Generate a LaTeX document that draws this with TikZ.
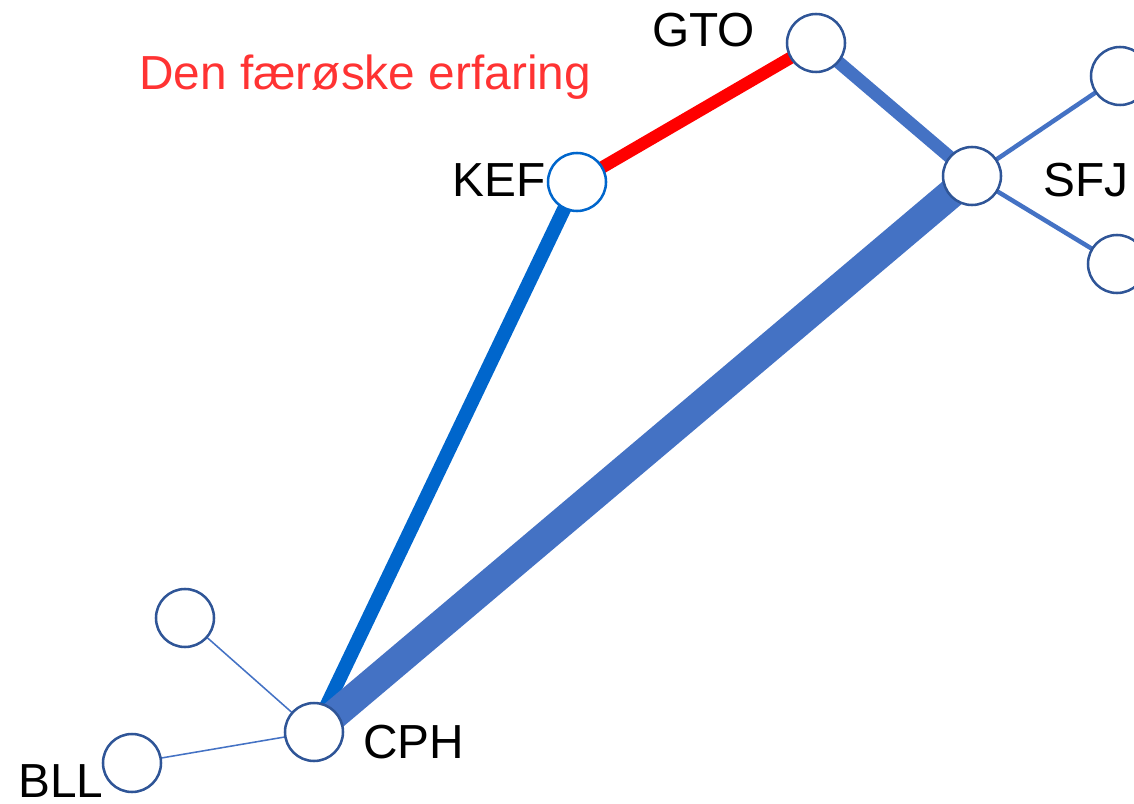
\documentclass[tikz,border=0pt]{standalone}
\usepackage{fontspec}
\setmainfont{Liberation Sans}
\usetikzlibrary{backgrounds}
\definecolor{routecolor}{HTML}{4472C4}
\definecolor{ringcolor}{HTML}{2F5597}
\definecolor{kefcolor}{HTML}{0066CC}
\definecolor{titlecolor}{HTML}{FF3333}

\begin{document}
\begin{tikzpicture}[airport/.style={circle,draw=ringcolor,line width=1.8pt,fill=white,minimum size=1.45cm,inner sep=0pt},
  code/.style={font=\fontsize{34}{40}\selectfont,inner sep=0pt,anchor=base west}]
  \useasboundingbox (0,0) rectangle (28.35,-20.1);
  % airports
  \node[airport] (GTO) at (20.4,-1.075) {}; \node[airport,draw=kefcolor] (KEF) at (14.425,-4.55) {};
  \node[airport] (SFJ) at (24.3,-4.4) {}; \node[airport] (NE) at (28,-1.9) {}; \node[airport] (SE) at (27.925,-6.6) {};
  \node[airport] (CPH) at (7.85,-18.3) {}; \node[airport] (NW) at (4.625,-15.45) {}; \node[airport] (BLL) at (3.3,-19.075) {};
  % routes, under the airports
  \begin{pgfonlayer}{background}
    \draw[line width=8.8pt, red] (KEF.center) -- (GTO.center);
    \draw[line width=9.2pt, routecolor] (GTO.center) -- (SFJ.center);
    \draw[line width=3.2pt, routecolor] (SFJ.center) -- (NE.center) (SFJ.center) -- (SE.center);
    \draw[line width=10pt, kefcolor] (KEF.center) -- (CPH.center);
    \draw[line width=21pt, routecolor] (SFJ.center) -- (CPH.center);
    \draw[line width=1.1pt, routecolor] (CPH.center) -- (NW.center) (CPH.center) -- (BLL.center);
  \end{pgfonlayer}
  % labels
  \node[code] (GTOtext) at (16.3,-1.175) {GTO};
  \node[code] (KEFtext) at (11.3,-4.925) {KEF};
  \node[code] (SFJtext) at (26.075,-4.925) {SFJ};
  \node[code] (CPHtext) at (9.075,-18.95) {CPH};
  \node[code] (BLLtext) at (0.45,-19.93) {BLL};
  \node[code,text=titlecolor] (title) at (3.475,-2.25) {Den færøske erfaring};
\end{tikzpicture}
\end{document}
